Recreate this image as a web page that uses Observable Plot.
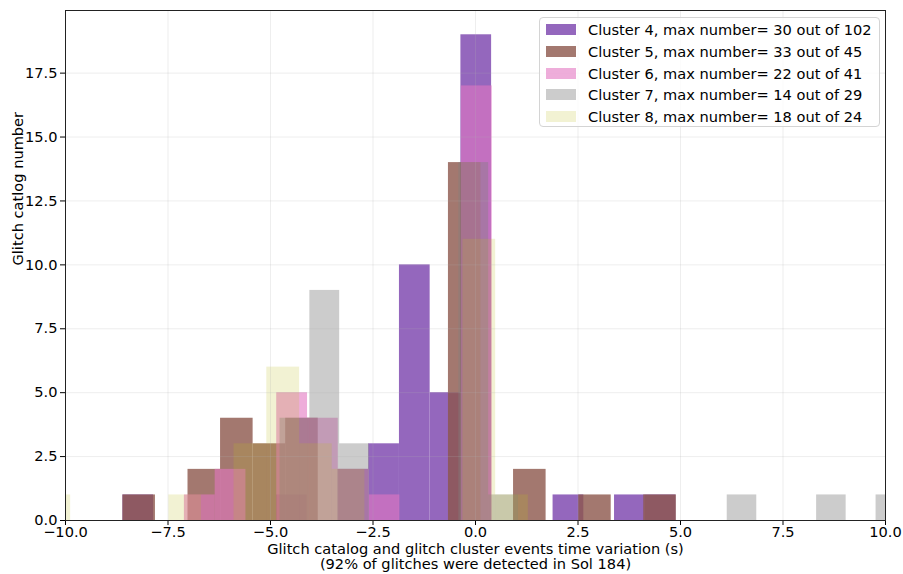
<!DOCTYPE html>
<html><head><meta charset="utf-8">
<script src="https://cdn.jsdelivr.net/npm/d3@7"></script>
<script src="https://cdn.jsdelivr.net/npm/@observablehq/plot@0.6"></script>
<style>
body{margin:0;background:#fff;}
#wrap{position:relative;width:903px;height:574px;font-family:"DejaVu Sans",sans-serif;}
#legend{position:absolute;left:539px;top:17px;width:341px;height:110px;box-sizing:border-box;border:1px solid #d4d4d4;border-radius:4px;background:rgba(255,255,255,0.8);}
.row{position:absolute;left:0;height:22px;display:flex;align-items:center;font-size:14.6px;color:#000;white-space:nowrap;}
.sw{width:30px;height:11px;margin-left:6px;margin-right:12px;}
</style></head><body><div id="wrap"></div>
<script>
// tick values
const xTicks = [-10, -7.5, -5, -2.5, 0, 2.5, 5, 7.5, 10];
const yTicks = [0, 2.5, 5, 7.5, 10, 12.5, 15, 17.5];

// series names and colours
const names = [
  "Cluster 4, max number= 30 out of 102",
  "Cluster 5, max number= 33 out of 45",
  "Cluster 6, max number= 22 out of 41",
  "Cluster 7, max number= 14 out of 29",
  "Cluster 8, max number= 18 out of 24"
];
const colors = ["#9467bd", "#8c564b", "#e377c2", "#7f7f7f", "#bcbd22"];
const alphas = [1.0, 0.8, 0.6, 0.4, 0.2];

// Cluster 4 (bins: low edge, high edge, count)
const c4Lo = [-8.60, -4.853, -3.354, -2.605, -1.855, -1.106, -0.356, 1.892, 3.391, 4.141];
const c4Hi = [-7.851, -4.104, -2.605, -1.855, -1.106, -0.356, 0.393, 2.642, 4.141, 4.89];
const c4N  = [1, 1, 2, 3, 10, 5, 19, 1, 1, 1];
// Cluster 5
const c5Lo = [-8.60, -7.012, -6.218, -5.424, -4.63, -0.66, 0.928, 2.516, 4.104];
const c5Hi = [-7.806, -6.218, -5.424, -4.63, -3.836, 0.134, 1.722, 3.31, 4.898];
const c5N  = [1, 2, 4, 3, 4, 14, 2, 1, 1];
// Cluster 6
const c6Lo = [-7.10, -6.349, -4.848, -4.097, -3.347, -2.596, -0.344];
const c6Hi = [-6.349, -5.599, -4.097, -3.347, -2.596, -1.845, 0.407];
const c6N  = [1, 2, 5, 4, 2, 1, 17];
// Cluster 7
const c7Lo = [-4.767, -4.04, -3.313, -0.406, 0.321, 6.14, 8.32, 9.77];
const c7Hi = [-4.04, -3.313, -2.586, 0.321, 1.048, 6.86, 9.04, 10.50];
const c7N  = [4, 9, 3, 14, 1, 1, 1, 1];
// Cluster 8
const c8Lo = [-10.67, -7.48, -5.89, -5.09, -4.29, -3.495, -0.305, 0.4925];
const c8Hi = [-9.875, -6.685, -5.09, -4.29, -3.495, -2.6975, 0.4925, 1.29];
const c8N  = [1, 1, 3, 6, 3, 2, 11, 1];

const series = [[c4Lo, c4Hi, c4N], [c5Lo, c5Hi, c5N], [c6Lo, c6Hi, c6N], [c7Lo, c7Hi, c7N], [c8Lo, c8Hi, c8N]];
const tables = series.map(([lo, hi, n]) => lo.map((d, i) => ({x1: d, x2: hi[i], n: n[i]})));

const xLabel = "Glitch catalog and glitch cluster events time variation (s)\n(92% of glitches were detected in Sol 184)";
const yLabel = "Glitch catlog number";

const fmt = d3.format(".1f");

const chart = Plot.plot({
  width: 903, height: 574,
  marginLeft: 65, marginRight: 18, marginTop: 10, marginBottom: 54,
  style: {fontFamily: "'DejaVu Sans', sans-serif", fontSize: "14.6px", color: "#000", background: "#fff", overflow: "visible"},
  x: {domain: [-10, 10]},
  y: {domain: [0, 19.95]},
  marks: [
    ...tables.map((t, i) => Plot.rectY(t, {x1: "x1", x2: "x2", y: "n", fill: colors[i], fillOpacity: alphas[i], clip: true})),
    Plot.gridX(xTicks, {stroke: "#b0b0b0", strokeOpacity: 0.22}),
    Plot.gridY(yTicks, {stroke: "#b0b0b0", strokeOpacity: 0.22}),
    Plot.axisX(xTicks, {tickFormat: fmt, tickSize: 5, tickPadding: 1, label: null, fontSize: 14.6, stroke: "#000"}),
    Plot.axisY(yTicks, {tickFormat: fmt, tickSize: 5, tickPadding: 3, label: null, fontSize: 14.6, stroke: "#000"}),
    Plot.frame({stroke: "#222", strokeWidth: 1}),
    Plot.text([xLabel], {frameAnchor: "bottom", dy: 36, lineAnchor: "middle", lineHeight: 1.03, fontSize: 14.6, fill: "#000"}),
    Plot.text([yLabel], {frameAnchor: "left", dx: -47, rotate: -90, fontSize: 14.6, fill: "#000"})
  ]
});

const wrap = document.getElementById("wrap");
wrap.appendChild(chart);

const legend = document.createElement("div");
legend.id = "legend";
names.forEach((name, i) => {
  const row = document.createElement("div");
  row.className = "row";
  row.style.top = (0.7 + i * 21.7) + "px";
  const sw = document.createElement("div");
  sw.className = "sw";
  sw.style.background = colors[i];
  sw.style.opacity = alphas[i];
  const tx = document.createElement("span");
  tx.textContent = name;
  row.appendChild(sw);
  row.appendChild(tx);
  legend.appendChild(row);
});
wrap.appendChild(legend);
</script></body></html>
